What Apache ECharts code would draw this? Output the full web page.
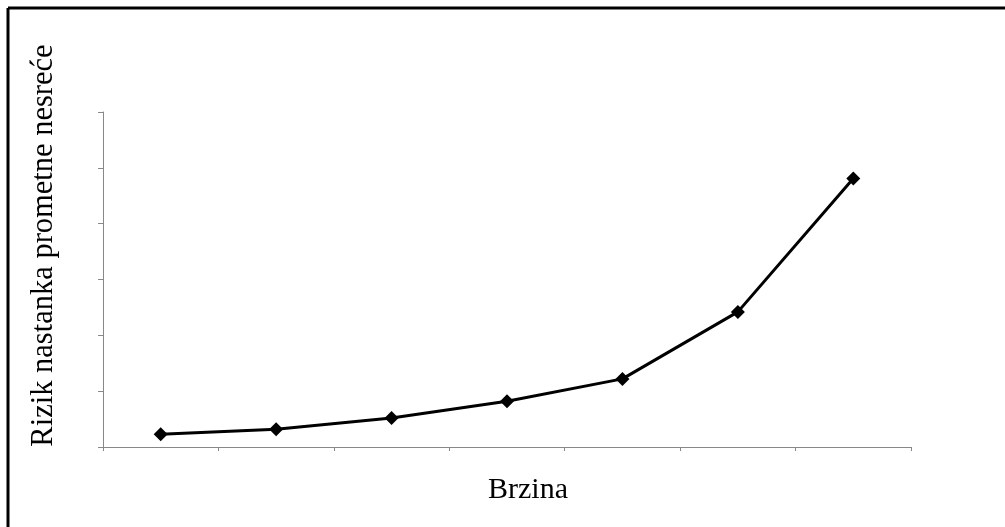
<!DOCTYPE html>
<html lang="hr">
  <head>
    <meta charset="UTF-8" />
    <title>Rizik i brzina</title>
    <style>
      html, body { margin: 0; padding: 0; background: #fff; }
      #chart { width: 1005px; height: 527px; }
    </style>
  </head>
  <body>
    <div id="chart"></div>
    <script src="https://cdn.jsdelivr.net/npm/echarts@6/dist/echarts.min.js"></script>
    <script>
      // kategorije brzine (oznake se ne prikazuju)
      var brzine = ["1", "2", "3", "4", "5", "6", "7"];
      // rizik procijenjen sa slike
      var rizik = [0.23, 0.32, 0.52, 0.82, 1.22, 2.42, 4.81];

      var chart = echarts.init(document.getElementById("chart"));
      var font = "'Liberation Serif', 'DejaVu Serif', serif";

      chart.setOption({
        animation: false,
        grid: { left: 103, right: 94, top: 112, bottom: 80 },
        // okvir oko slike (samo gore i lijevo)
        graphic: [
          { type: "line", shape: { x1: 8, y1: 8, x2: 1005, y2: 8 }, style: { stroke: "#000", lineWidth: 3 } },
          { type: "line", shape: { x1: 8, y1: 8, x2: 8, y2: 527 }, style: { stroke: "#000", lineWidth: 3 } }
        ],
        xAxis: {
          type: "category",
          data: brzine,
          boundaryGap: true,
          name: "Brzina",
          nameLocation: "middle",
          nameGap: 28,
          // pomak udesno kao na originalu
          nameTextStyle: { fontFamily: font, fontSize: 30, color: "#000", padding: [0, 0, 0, 42] },
          axisLine: { lineStyle: { color: "#888", width: 1 } },
          axisTick: { show: true, interval: 0, length: 4, lineStyle: { color: "#888" } },
          axisLabel: { show: false },
          splitLine: { show: false }
        },
        yAxis: {
          type: "value",
          min: 0,
          max: 6,
          interval: 1,
          name: "Rizik nastanka prometne nesreće",
          nameLocation: "middle",
          nameRotate: 90,
          nameGap: 44,
          // pomak prema gore
          nameTextStyle: { fontFamily: font, fontSize: 30.5, color: "#000", padding: [0, 0, 0, 68] },
          axisLine: { show: true, lineStyle: { color: "#888", width: 1 } },
          axisTick: { show: true, length: 5, lineStyle: { color: "#888" } },
          axisLabel: { show: false },
          splitLine: { show: false }
        },
        series: [
          {
            type: "line",
            data: rizik,
            symbol: "diamond",
            symbolSize: 14,
            lineStyle: { color: "#000", width: 3 },
            itemStyle: { color: "#000" }
          }
        ]
      });
    </script>
  </body>
</html>
